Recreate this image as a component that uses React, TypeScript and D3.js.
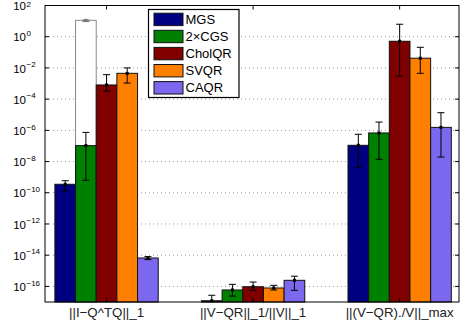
import * as d3 from 'd3'

const groups = ['||I\u2212Q^TQ||_1', '||V\u2212QR||_1/||V||_1', '||(V\u2212QR)./V||_max']
const methods = ['MGS', '2\u00d7CGS', 'CholQR', 'SVQR', 'CAQR']
const colors = ['#000080', '#008000', '#800000', '#ff8000', '#7b68ee']

// one value per group, per method
const mgs = [3.5e-10, 1.2e-17, 1.1e-7]
const cgs2 = [1.05e-7, 5.9e-17, 6.8e-7]
const cholqr = [8.1e-4, 9.5e-17, 0.51]
const svqr = [4.5e-3, 7.9e-17, 0.042]
const caqr = [6.6e-15, 2.45e-16, 1.55e-6]

const mgsLo = [1.3e-10, 5e-18, 4.3e-9]
const mgsHi = [5.9e-10, 2.7e-17, 5.6e-7]
const cgs2Lo = [6.3e-10, 2.4e-17, 1.4e-8]
const cgs2Hi = [7.4e-7, 1.35e-16, 3.4e-6]
const cholqrLo = [3.3e-4, 5.6e-17, 3e-3]
const cholqrHi = [3.7e-3, 1.9e-16, 6.3]
const svqrLo = [1.07e-3, 5.9e-17, 4.5e-3]
const svqrHi = [1e-2, 1.17e-16, 0.21]
const caqrLo = [5.2e-15, 5.6e-17, 1.95e-8]
const caqrHi = [8.1e-15, 4.5e-16, 1.35e-5]

// plain CGS (only first group), drawn hollow behind 2xCGS
const cgs = 11.2
const cgsLo = 9.3
const cgsHi = 11.7

const tickExps = [2, 0, -2, -4, -6, -8, -10, -12, -14, -16]

const values = [mgs, cgs2, cholqr, svqr, caqr]
const lows = [mgsLo, cgs2Lo, cholqrLo, svqrLo, caqrLo]
const highs = [mgsHi, cgs2Hi, cholqrHi, svqrHi, caqrHi]

const W = 461
const H = 328
const left = 45, right = 459, top = 5.5, bottom = 302
const barW = 0.141
const cap = 3.5

export default function App() {
  const x = d3.scaleLinear().domain([0.58, 3.405]).range([left, right])
  const y = d3.scaleLog().domain([1e-17, 1e2]).range([bottom, top]).clamp(true)
  const font = 'Liberation Sans, Arial, sans-serif'

  const bar = (gi: number, mi: number) => {
    const cx = gi + 1 + (mi - 2) * barW
    return { x0: x(cx - barW / 2), x1: x(cx + barW / 2), cx: x(cx) }
  }

  const errBar = (cx: number, lo: number, hi: number, v: number, color: string, key: string) => (
    <g key={key} stroke={color} strokeWidth={1}>
      <line x1={cx} x2={cx} y1={y(lo)} y2={y(hi)} />
      <line x1={cx - cap} x2={cx + cap} y1={y(hi)} y2={y(hi)} />
      {y(lo) < bottom && <line x1={cx - cap} x2={cx + cap} y1={y(lo)} y2={y(lo)} />}
      <rect x={cx - 1.5} y={y(v) - 1.5} width={3} height={3} fill={color} stroke="none" />
    </g>
  )

  const cgsBar = bar(0, 1)

  return (
    <svg width={W} height={H} style={{ position: 'absolute', left: 0, top: 0, background: '#fff' }} fontFamily={font}>
      {/* grid */}
      {tickExps.map(e => (
        <line key={'g' + e} x1={left} x2={right} y1={y(Math.pow(10, e))} y2={y(Math.pow(10, e))}
          stroke="#999" strokeWidth={1} strokeDasharray="1,3" />
      ))}
      {/* hollow CGS bar */}
      <rect x={cgsBar.x0} y={y(cgs)} width={cgsBar.x1 - cgsBar.x0} height={bottom - y(cgs)}
        fill="#fff" stroke="#888" strokeWidth={1} />
      {errBar(cgsBar.cx, cgsLo, cgsHi, cgs, '#777', 'cgs')}
      {/* bars */}
      {groups.map((g, gi) => methods.map((m, mi) => {
        const b = bar(gi, mi)
        const v = values[mi][gi]
        return (
          <rect key={g + m} x={b.x0} y={y(v)} width={b.x1 - b.x0} height={bottom - y(v)}
            fill={colors[mi]} stroke="#111" strokeWidth={1} />
        )
      }))}
      {groups.map((g, gi) => methods.map((m, mi) => {
        const b = bar(gi, mi)
        return errBar(b.cx, lows[mi][gi], highs[mi][gi], values[mi][gi], '#000', 'e' + g + m)
      }))}
      {/* axes box */}
      <rect x={left} y={top} width={right - left} height={bottom - top} fill="none" stroke="#000" strokeWidth={1} />
      {tickExps.map(e => {
        const ty = y(Math.pow(10, e))
        return (
          <g key={'t' + e}>
            <line x1={left} x2={left + 4} y1={ty} y2={ty} stroke="#000" />
            <line x1={right - 4} x2={right} y1={ty} y2={ty} stroke="#000" />
            <text x={26} y={ty + 4.7} textAnchor="end" fontSize={11.5} fill="#000">10</text>
            <text x={26.5} y={Math.max(ty - 0.8, 6.5)} fontSize={8} fill="#000">{e < 0 ? '\u2212' + (-e) : String(e)}</text>
          </g>
        )
      })}
      {groups.map((g, gi) => (
        <g key={'x' + g}>
          <line x1={x(gi + 1)} x2={x(gi + 1)} y1={top} y2={top + 4} stroke="#000" />
          <line x1={x(gi + 1)} x2={x(gi + 1)} y1={bottom} y2={bottom - 4} stroke="#000" />
          <text x={x(gi + 1)} y={316.5} textAnchor="middle" fontSize={13.3} fill="#222">{g}</text>
        </g>
      ))}
      {/* legend */}
      <g>
        <rect x={148.5} y={9.5} width={90.5} height={88} fill="#fff" stroke="#000" strokeWidth={1.2} />
        {methods.map((m, mi) => (
          <g key={'l' + m}>
            <rect x={154} y={13.2 + mi * 17.1} width={29} height={12.4} fill={colors[mi]} stroke="#111" strokeWidth={1} />
            <text x={185.5} y={24 + mi * 17.1} fontSize={13} fill="#000">{m}</text>
          </g>
        ))}
      </g>
    </svg>
  )
}
